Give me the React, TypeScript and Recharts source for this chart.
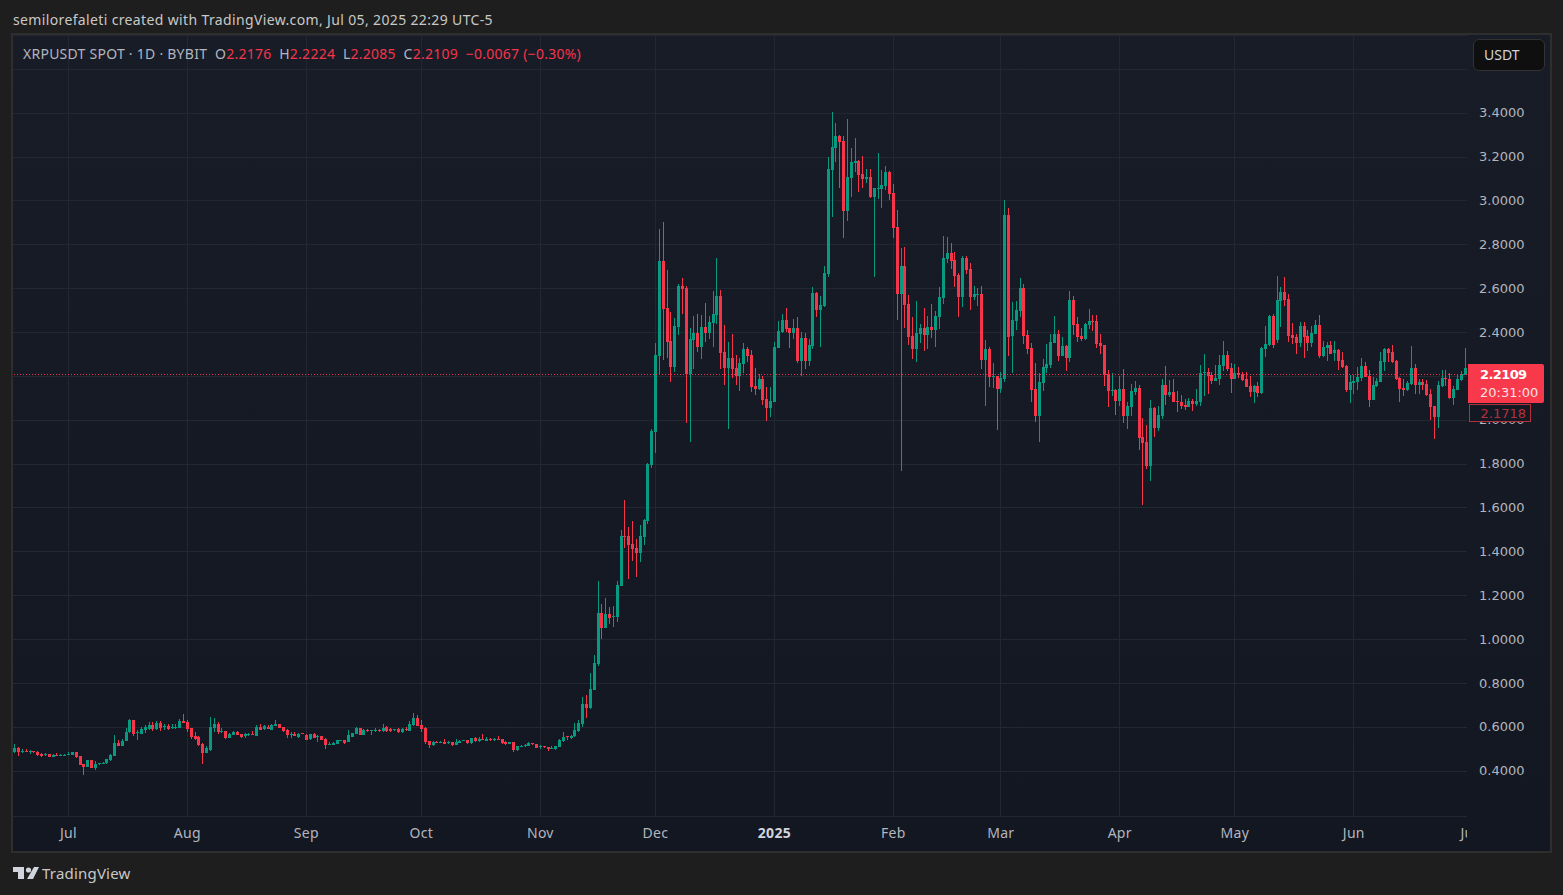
import { Bar, CartesianGrid, ComposedChart, ReferenceLine, XAxis, YAxis } from "recharts";

// XRPUSDT daily candles, first one is 2024-06-17
const opens = [
  0.487, 0.505, 0.488, 0.493, 0.488, 0.49, 0.487, 0.479, 0.473, 0.478,
  0.464, 0.473, 0.47, 0.473, 0.475, 0.473, 0.487, 0.469, 0.432, 0.418,
  0.45, 0.414, 0.432, 0.433, 0.434, 0.451, 0.469, 0.528, 0.514, 0.537,
  0.576, 0.631, 0.575, 0.571, 0.588, 0.592, 0.611, 0.592, 0.618, 0.6,
  0.606, 0.597, 0.597, 0.597, 0.629, 0.624, 0.596, 0.56, 0.556, 0.524,
  0.482, 0.499, 0.597, 0.615, 0.577, 0.583, 0.55, 0.566, 0.58, 0.569,
  0.56, 0.565, 0.57, 0.562, 0.602, 0.591, 0.603, 0.591, 0.608, 0.615,
  0.6, 0.588, 0.566, 0.569, 0.555, 0.573, 0.566, 0.544, 0.571, 0.56,
  0.56, 0.547, 0.52, 0.52, 0.524, 0.54, 0.541, 0.533, 0.557, 0.569,
  0.596, 0.565, 0.589, 0.585, 0.583, 0.589, 0.583, 0.6, 0.592, 0.586,
  0.594, 0.58, 0.594, 0.585, 0.611, 0.643, 0.609, 0.597, 0.537, 0.519,
  0.534, 0.531, 0.534, 0.527, 0.533, 0.519, 0.53, 0.538, 0.542, 0.527,
  0.551, 0.537, 0.545, 0.54, 0.547, 0.541, 0.545, 0.545, 0.533, 0.524,
  0.533, 0.495, 0.514, 0.514, 0.516, 0.528, 0.522, 0.509, 0.513, 0.509,
  0.502, 0.502, 0.51, 0.538, 0.558, 0.551, 0.557, 0.582, 0.615, 0.706,
  0.688, 0.77, 0.889, 1.122, 1.053, 1.117, 1.103, 1.104, 1.245, 1.474,
  1.474, 1.437, 1.419, 1.396, 1.469, 1.542, 1.795, 1.947, 2.292, 2.724,
  2.511, 2.361, 2.242, 2.424, 2.611, 2.602, 2.211, 2.365, 2.397, 2.333,
  2.424, 2.397, 2.443, 2.479, 2.565, 2.311, 2.238, 2.283, 2.238, 2.202,
  2.256, 2.324, 2.297, 2.156, 2.143, 2.188, 2.097, 2.056, 2.083, 2.329,
  2.402, 2.456, 2.42, 2.397, 2.42, 2.27, 2.374, 2.27, 2.338, 2.579,
  2.503, 2.521, 2.667, 3.142, 3.242, 3.297, 3.274, 2.955, 3.105, 3.173,
  3.183, 3.123, 3.101, 3.11, 3.018, 3.055, 3.055, 3.069, 3.132, 3.036,
  2.882, 2.576, 2.704, 2.53, 2.385, 2.325, 2.394, 2.421, 2.389, 2.426,
  2.412, 2.471, 2.558, 2.736, 2.763, 2.731, 2.663, 2.562, 2.74, 2.69,
  2.562, 2.572, 2.576, 2.275, 2.324, 2.197, 2.202, 2.142, 2.188, 2.938,
  2.383, 2.452, 2.497, 2.602, 2.388, 2.329, 2.142, 2.02, 2.17, 2.238,
  2.252, 2.352, 2.392, 2.292, 2.338, 2.283, 2.547, 2.438, 2.383, 2.37,
  2.433, 2.452, 2.452, 2.352, 2.342, 2.211, 2.133, 2.138, 2.088, 2.142,
  2.02, 2.061, 2.129, 2.147, 1.924, 1.902, 1.793, 2.056, 1.965, 2.02,
  2.161, 2.115, 2.129, 2.088, 2.083, 2.07, 2.061, 2.088, 2.074, 2.083,
  2.215, 2.22, 2.206, 2.179, 2.188, 2.247, 2.297, 2.238, 2.188, 2.215,
  2.211, 2.188, 2.156, 2.129, 2.156, 2.124, 2.324, 2.342, 2.474, 2.365,
  2.542, 2.583, 2.552, 2.388, 2.379, 2.352, 2.429, 2.383, 2.352, 2.393,
  2.433, 2.292, 2.33, 2.345, 2.306, 2.32, 2.274, 2.247, 2.138, 2.17,
  2.174, 2.192, 2.247, 2.202, 2.092, 2.156, 2.174, 2.265, 2.324, 2.311,
  2.27, 2.192, 2.147, 2.138, 2.165, 2.238, 2.161, 2.174, 2.165, 2.12,
  2.065, 2.015, 2.156, 2.192, 2.188, 2.102, 2.138, 2.183, 2.206,
];

const closes = [
  0.505, 0.487, 0.493, 0.489, 0.49, 0.486, 0.475, 0.469, 0.478, 0.464,
  0.473, 0.47, 0.475, 0.475, 0.48, 0.487, 0.463, 0.429, 0.418, 0.45,
  0.414, 0.432, 0.435, 0.438, 0.453, 0.473, 0.528, 0.514, 0.537, 0.579,
  0.631, 0.565, 0.578, 0.592, 0.603, 0.611, 0.592, 0.618, 0.597, 0.604,
  0.591, 0.602, 0.602, 0.629, 0.62, 0.592, 0.554, 0.547, 0.518, 0.482,
  0.505, 0.602, 0.617, 0.577, 0.583, 0.55, 0.569, 0.58, 0.565, 0.556,
  0.569, 0.571, 0.566, 0.602, 0.589, 0.604, 0.595, 0.612, 0.617, 0.597,
  0.58, 0.565, 0.57, 0.562, 0.57, 0.569, 0.544, 0.569, 0.551, 0.562,
  0.544, 0.521, 0.524, 0.528, 0.54, 0.543, 0.528, 0.565, 0.574, 0.598,
  0.565, 0.588, 0.583, 0.588, 0.588, 0.583, 0.598, 0.582, 0.583, 0.592,
  0.579, 0.592, 0.588, 0.615, 0.643, 0.606, 0.592, 0.531, 0.519, 0.534,
  0.53, 0.534, 0.524, 0.533, 0.519, 0.534, 0.539, 0.542, 0.527, 0.551,
  0.537, 0.545, 0.542, 0.547, 0.542, 0.545, 0.542, 0.527, 0.524, 0.533,
  0.495, 0.514, 0.516, 0.519, 0.53, 0.522, 0.505, 0.514, 0.508, 0.498,
  0.507, 0.514, 0.544, 0.556, 0.554, 0.56, 0.586, 0.62, 0.708, 0.688,
  0.775, 0.893, 1.122, 1.053, 1.117, 1.099, 1.108, 1.25, 1.474, 1.469,
  1.433, 1.414, 1.396, 1.474, 1.547, 1.8, 1.952, 2.297, 2.724, 2.506,
  2.356, 2.242, 2.429, 2.611, 2.597, 2.211, 2.37, 2.397, 2.333, 2.424,
  2.397, 2.447, 2.483, 2.565, 2.306, 2.238, 2.283, 2.233, 2.202, 2.261,
  2.324, 2.292, 2.152, 2.143, 2.188, 2.092, 2.056, 2.088, 2.333, 2.406,
  2.456, 2.415, 2.397, 2.42, 2.27, 2.374, 2.27, 2.342, 2.579, 2.502,
  2.526, 2.672, 3.146, 3.246, 3.297, 3.269, 2.955, 3.11, 3.178, 3.183,
  3.119, 3.101, 3.11, 3.018, 3.059, 3.059, 3.073, 3.132, 3.032, 2.877,
  2.576, 2.704, 2.526, 2.38, 2.325, 2.398, 2.421, 2.389, 2.426, 2.412,
  2.476, 2.562, 2.74, 2.763, 2.727, 2.658, 2.562, 2.74, 2.686, 2.562,
  2.576, 2.576, 2.275, 2.324, 2.197, 2.202, 2.142, 2.192, 2.938, 2.383,
  2.456, 2.502, 2.602, 2.383, 2.324, 2.138, 2.02, 2.174, 2.242, 2.256,
  2.356, 2.392, 2.292, 2.338, 2.283, 2.547, 2.433, 2.379, 2.37, 2.438,
  2.452, 2.447, 2.347, 2.338, 2.206, 2.133, 2.138, 2.088, 2.142, 2.02,
  2.065, 2.133, 2.147, 1.92, 1.897, 1.793, 2.056, 1.965, 2.024, 2.161,
  2.115, 2.129, 2.083, 2.083, 2.065, 2.061, 2.088, 2.074, 2.088, 2.215,
  2.22, 2.202, 2.179, 2.192, 2.252, 2.297, 2.233, 2.188, 2.215, 2.206,
  2.183, 2.152, 2.129, 2.156, 2.124, 2.329, 2.347, 2.474, 2.342, 2.547,
  2.583, 2.547, 2.383, 2.374, 2.352, 2.429, 2.379, 2.352, 2.397, 2.433,
  2.292, 2.333, 2.345, 2.306, 2.32, 2.27, 2.242, 2.138, 2.174, 2.179,
  2.197, 2.247, 2.197, 2.092, 2.161, 2.179, 2.27, 2.324, 2.306, 2.265,
  2.188, 2.142, 2.138, 2.17, 2.238, 2.161, 2.174, 2.161, 2.115, 2.061,
  2.015, 2.161, 2.192, 2.188, 2.102, 2.142, 2.188, 2.211, 2.238,
];

const highs = [
  0.524, 0.508, 0.503, 0.501, 0.496, 0.493, 0.493, 0.482, 0.482, 0.478,
  0.478, 0.482, 0.476, 0.478, 0.487, 0.487, 0.487, 0.47, 0.433, 0.451,
  0.451, 0.444, 0.437, 0.441, 0.456, 0.477, 0.565, 0.542, 0.545, 0.595,
  0.638, 0.634, 0.588, 0.603, 0.611, 0.623, 0.623, 0.629, 0.629, 0.614,
  0.614, 0.614, 0.617, 0.637, 0.661, 0.632, 0.596, 0.577, 0.56, 0.53,
  0.516, 0.647, 0.643, 0.623, 0.595, 0.583, 0.572, 0.583, 0.582, 0.571,
  0.575, 0.575, 0.581, 0.611, 0.615, 0.611, 0.608, 0.615, 0.634, 0.617,
  0.602, 0.592, 0.58, 0.58, 0.575, 0.574, 0.568, 0.57, 0.574, 0.565,
  0.561, 0.549, 0.533, 0.533, 0.541, 0.544, 0.544, 0.588, 0.576, 0.602,
  0.598, 0.591, 0.592, 0.589, 0.597, 0.592, 0.615, 0.606, 0.597, 0.593,
  0.598, 0.595, 0.6, 0.629, 0.666, 0.656, 0.634, 0.603, 0.538, 0.537,
  0.537, 0.538, 0.545, 0.537, 0.534, 0.547, 0.542, 0.542, 0.543, 0.553,
  0.555, 0.556, 0.57, 0.556, 0.552, 0.55, 0.56, 0.546, 0.536, 0.534,
  0.534, 0.515, 0.517, 0.522, 0.534, 0.529, 0.523, 0.521, 0.515, 0.51,
  0.513, 0.516, 0.546, 0.58, 0.561, 0.565, 0.62, 0.634, 0.737, 0.747,
  0.848, 0.93, 1.268, 1.163, 1.19, 1.149, 1.154, 1.268, 1.501, 1.638,
  1.515, 1.542, 1.46, 1.524, 1.551, 1.805, 1.96, 2.352, 2.874, 2.906,
  2.683, 2.492, 2.465, 2.62, 2.647, 2.611, 2.42, 2.474, 2.483, 2.479,
  2.533, 2.474, 2.588, 2.742, 2.592, 2.433, 2.356, 2.392, 2.297, 2.283,
  2.352, 2.333, 2.32, 2.238, 2.211, 2.202, 2.152, 2.152, 2.356, 2.452,
  2.483, 2.511, 2.42, 2.461, 2.47, 2.402, 2.397, 2.37, 2.606, 2.583,
  2.567, 2.704, 3.201, 3.406, 3.356, 3.301, 3.297, 3.374, 3.242, 3.288,
  3.187, 3.205, 3.146, 3.146, 3.059, 3.219, 3.142, 3.16, 3.137, 3.078,
  2.959, 2.786, 2.79, 2.572, 2.471, 2.544, 2.439, 2.512, 2.476, 2.531,
  2.499, 2.608, 2.841, 2.836, 2.809, 2.768, 2.672, 2.749, 2.749, 2.717,
  2.613, 2.604, 2.613, 2.366, 2.333, 2.261, 2.202, 2.22, 3.006, 2.97,
  2.538, 2.542, 2.647, 2.62, 2.411, 2.352, 2.261, 2.215, 2.279, 2.347,
  2.392, 2.474, 2.411, 2.379, 2.342, 2.588, 2.565, 2.47, 2.42, 2.442,
  2.506, 2.479, 2.479, 2.392, 2.342, 2.229, 2.215, 2.142, 2.202, 2.233,
  2.083, 2.165, 2.179, 2.161, 2.011, 1.979, 2.092, 2.061, 2.065, 2.188,
  2.247, 2.183, 2.188, 2.133, 2.115, 2.097, 2.102, 2.097, 2.142, 2.252,
  2.301, 2.238, 2.22, 2.252, 2.297, 2.361, 2.315, 2.261, 2.256, 2.242,
  2.22, 2.22, 2.202, 2.161, 2.174, 2.333, 2.429, 2.479, 2.483, 2.656,
  2.606, 2.652, 2.574, 2.442, 2.392, 2.447, 2.447, 2.411, 2.429, 2.456,
  2.479, 2.361, 2.355, 2.361, 2.361, 2.324, 2.311, 2.252, 2.206, 2.206,
  2.242, 2.283, 2.265, 2.229, 2.197, 2.192, 2.311, 2.329, 2.329, 2.342,
  2.274, 2.197, 2.188, 2.179, 2.338, 2.256, 2.188, 2.188, 2.183, 2.142,
  2.065, 2.179, 2.229, 2.229, 2.215, 2.156, 2.206, 2.224, 2.329,
];

const lows = [
  0.481, 0.469, 0.487, 0.487, 0.479, 0.484, 0.472, 0.464, 0.47, 0.464,
  0.463, 0.469, 0.467, 0.469, 0.473, 0.473, 0.458, 0.428, 0.382, 0.417,
  0.413, 0.405, 0.427, 0.432, 0.433, 0.446, 0.469, 0.514, 0.514, 0.535,
  0.575, 0.56, 0.542, 0.569, 0.575, 0.588, 0.582, 0.588, 0.585, 0.588,
  0.585, 0.591, 0.592, 0.595, 0.62, 0.576, 0.547, 0.542, 0.514, 0.434,
  0.482, 0.49, 0.58, 0.569, 0.57, 0.545, 0.548, 0.565, 0.563, 0.551,
  0.554, 0.56, 0.565, 0.56, 0.588, 0.588, 0.592, 0.588, 0.606, 0.597,
  0.578, 0.551, 0.554, 0.56, 0.553, 0.568, 0.543, 0.543, 0.55, 0.533,
  0.543, 0.501, 0.519, 0.519, 0.523, 0.538, 0.524, 0.532, 0.556, 0.568,
  0.564, 0.563, 0.578, 0.565, 0.58, 0.58, 0.58, 0.579, 0.579, 0.585,
  0.577, 0.574, 0.583, 0.582, 0.609, 0.605, 0.58, 0.527, 0.507, 0.516,
  0.528, 0.528, 0.523, 0.524, 0.518, 0.518, 0.529, 0.536, 0.525, 0.527,
  0.534, 0.535, 0.541, 0.54, 0.54, 0.537, 0.54, 0.525, 0.516, 0.523,
  0.487, 0.494, 0.513, 0.508, 0.515, 0.521, 0.504, 0.503, 0.505, 0.49,
  0.498, 0.5, 0.509, 0.536, 0.544, 0.548, 0.554, 0.581, 0.598, 0.642,
  0.683, 0.769, 0.88, 1.003, 1.052, 1.071, 1.058, 1.081, 1.245, 1.419,
  1.277, 1.359, 1.286, 1.355, 1.432, 1.529, 1.78, 1.85, 2.215, 2.279,
  2.283, 2.174, 2.22, 2.388, 2.483, 1.988, 1.902, 2.233, 2.311, 2.279,
  2.356, 2.37, 2.333, 2.442, 2.233, 2.161, 1.961, 2.192, 2.161, 2.133,
  2.215, 2.265, 2.129, 2.115, 2.138, 2.07, 1.997, 2.015, 2.083, 2.329,
  2.397, 2.402, 2.329, 2.37, 2.261, 2.202, 2.234, 2.247, 2.324, 2.47,
  2.334, 2.517, 2.654, 2.927, 3.178, 3.06, 2.832, 2.909, 3.018, 3.132,
  3.041, 3.06, 3.082, 3.014, 2.654, 3.009, 2.968, 3.05, 3.005, 2.832,
  2.458, 1.769, 2.421, 2.344, 2.28, 2.266, 2.353, 2.316, 2.325, 2.376,
  2.334, 2.417, 2.53, 2.718, 2.691, 2.608, 2.471, 2.517, 2.667, 2.503,
  2.549, 2.521, 2.234, 2.065, 2.152, 2.147, 1.956, 2.124, 2.174, 2.297,
  2.215, 2.411, 2.47, 2.347, 2.302, 2.083, 1.993, 1.902, 2.133, 2.215,
  2.238, 2.352, 2.27, 2.292, 2.224, 2.265, 2.388, 2.356, 2.361, 2.365,
  2.415, 2.406, 2.329, 2.302, 2.156, 2.061, 2.111, 2.024, 2.065, 1.988,
  1.961, 2.02, 2.115, 1.865, 1.615, 1.779, 1.724, 1.924, 1.952, 2.006,
  2.07, 2.106, 2.083, 2.038, 2.052, 2.047, 2.061, 2.043, 2.065, 2.065,
  2.111, 2.12, 2.165, 2.179, 2.161, 2.224, 2.224, 2.124, 2.188, 2.192,
  2.179, 2.152, 2.106, 2.079, 2.106, 2.12, 2.288, 2.338, 2.329, 2.352,
  2.424, 2.52, 2.356, 2.347, 2.302, 2.333, 2.283, 2.315, 2.333, 2.393,
  2.283, 2.288, 2.267, 2.305, 2.27, 2.229, 2.238, 2.129, 2.079, 2.12,
  2.138, 2.179, 2.197, 2.061, 2.092, 2.152, 2.174, 2.224, 2.265, 2.26,
  2.183, 2.083, 2.111, 2.135, 2.16, 2.12, 2.12, 2.138, 2.111, 2.002,
  1.915, 1.965, 2.152, 2.156, 2.097, 2.07, 2.138, 2.179, 2.206,
];

// day index of every first of the month, the last one sits just past the edge
const monthTicks = [14, 45, 76, 106, 137, 167, 198, 229, 257, 288, 318, 349, 379];
const monthLabels = ["Jul", "Aug", "Sep", "Oct", "Nov", "Dec", "2025", "Feb", "Mar", "Apr", "May", "Jun", "Jul"];
const priceTicks = [0.4, 0.6, 0.8, 1, 1.2, 1.4, 1.6, 1.8, 2, 2.2, 2.4, 2.6, 2.8, 3, 3.2, 3.4, 3.6];

const lastClose = 2.2109;
const UP = "#089981";
const DOWN = "#F6344A";
const FONT = "'Noto Sans', sans-serif";
const MONO = "'DejaVu Sans', sans-serif";

const candles = opens.map((open, i) => ({
  day: i,
  open,
  close: closes[i],
  high: highs[i],
  low: lows[i],
}));

function Candle(props: any) {
  const { x, y, width, height, payload } = props;
  const { open, close, high, low } = payload;
  const color = close >= open ? UP : DOWN;
  const perUnit = height / (high - low);
  const top = Math.round(y + (high - Math.max(open, close)) * perUnit);
  const bodyH = Math.max(Math.round(Math.abs(close - open) * perUnit), 1);
  const cx = Math.round(x + width / 2);
  return (
    <g shapeRendering="crispEdges">
      <rect x={cx} y={Math.round(y)} width={1} height={Math.round(height)} fill={color} />
      <rect x={cx - 1} y={top} width={3} height={bodyH} fill={color} />
    </g>
  );
}

function MonthTick(props: any) {
  const { x, y, payload } = props;
  const label = monthLabels[monthTicks.indexOf(payload.value)];
  return (
    <text
      x={x}
      y={y}
      textAnchor="middle"
      fill={label === "2025" ? "#d1d4dc" : "#b2b5be"}
      fontFamily={FONT}
      fontSize={14}
      letterSpacing={0.3}
      fontWeight={label === "2025" ? 700 : 400}
      clipPath="url(#timeClip)"
    >
      {label}
    </text>
  );
}

function Header() {
  const red = { color: "#f6344a" };
  return (
    <div
      style={{
        position: "absolute",
        left: 23,
        top: 44,
        fontFamily: FONT,
        fontSize: 14,
        letterSpacing: 0.25,
        lineHeight: "20px",
        color: "#b2b5be",
        whiteSpace: "pre",
      }}
    >
      XRPUSDT SPOT · 1D · BYBIT{"  "}O<span style={red}>2.2176</span>{"  "}H<span style={red}>2.2224</span>{"  "}L
      <span style={red}>2.2085</span>{"  "}C<span style={red}>2.2109</span>{"  "}
      <span style={red}>−0.0067 (−0.30%)</span>
    </div>
  );
}

export default function App() {
  return (
    <div
      style={{
        position: "fixed",
        left: 0,
        top: 0,
        width: 1563,
        height: 895,
        background: "#1e1e1e",
        overflow: "hidden",
      }}
    >
      <div
        style={{
          position: "absolute",
          left: 13,
          top: 11,
          fontFamily: FONT,
          fontSize: 14,
          letterSpacing: 0.36,
          lineHeight: "18px",
          color: "#c8c8c8",
        }}
      >
        semilorefaleti created with TradingView.com, Jul 05, 2025 22:29 UTC-5
      </div>

      <div
        style={{
          position: "absolute",
          left: 11,
          top: 33,
          width: 1537,
          height: 816,
          border: "2px solid #2e2e2e",
          background: "linear-gradient(#181c27, #131722)",
        }}
      />

      <div style={{ position: "absolute", left: 0, top: 0 }}>
        <ComposedChart
          width={1563}
          height={895}
          data={candles}
          margin={{ top: 35, right: 13, bottom: 44, left: 13 }}
        >
          <defs>
            <clipPath id="timeClip">
              <rect x={0} y={800} width={1467} height={60} />
            </clipPath>
          </defs>
          <CartesianGrid
            stroke="#232732"
            strokeWidth={1}
            shapeRendering="crispEdges"
            verticalValues={monthTicks.slice(0, -1)}
          />
          <XAxis
            dataKey="day"
            type="number"
            domain={[-0.443, 378.5]}
            allowDataOverflow
            ticks={monthTicks}
            interval={0}
            axisLine={false}
            tickLine={false}
            tickSize={0}
            tickMargin={22}
            height={35}
            tick={MonthTick}
          />
          <YAxis
            orientation="right"
            type="number"
            domain={[0.1953, 3.7566]}
            allowDataOverflow
            ticks={priceTicks}
            interval={0}
            axisLine={false}
            tickLine={false}
            tickSize={0}
            tickMargin={12}
            width={83}
            dy={-0.5}
            tick={{ fontSize: 13, fill: "#b2b5be", fontFamily: MONO }}
            tickFormatter={(v: number) => (v === 3.6 || v === 2.2 ? "" : v.toFixed(4))}
          />
          <ReferenceLine
            y={lastClose}
            stroke={DOWN}
            strokeWidth={1}
            strokeDasharray="1 2"
            transform="translate(0 0.52)"
          />
          <Bar
            dataKey={(d: any) => [d.low, d.high]}
            barSize={3}
            shape={Candle}
            isAnimationActive={false}
          />
        </ComposedChart>
      </div>

      <Header />

      <div
        style={{
          position: "absolute",
          left: 1473,
          top: 39,
          width: 70,
          height: 30,
          border: "1px solid #333",
          borderRadius: 6,
          background: "#0f0f0f",
          color: "#d1d4dc",
          fontFamily: FONT,
          fontSize: 14,
          lineHeight: "30px",
          textIndent: 10,
        }}
      >
        USDT
      </div>

      <div
        style={{
          position: "absolute",
          left: 1468,
          top: 364,
          width: 76,
          height: 39,
          background: "#f7394b",
          borderRadius: "0 2px 2px 0",
          fontFamily: MONO,
          fontSize: 13,
          lineHeight: "18px",
          paddingTop: 2,
          paddingLeft: 12,
          boxSizing: "border-box",
        }}
      >
        <div style={{ color: "#fff", fontWeight: 700, letterSpacing: -0.6 }}>2.2109</div>
        <div style={{ color: "#fde0e3" }}>20:31:00</div>
      </div>

      <div
        style={{
          position: "absolute",
          left: 1469,
          top: 404,
          width: 62,
          height: 18,
          border: "1px solid #b5303d",
          background: "#141823",
          color: "#b5303d",
          fontFamily: MONO,
          fontSize: 13,
          lineHeight: "17px",
          textAlign: "right",
          paddingRight: 4,
          boxSizing: "border-box",
        }}
      >
        2.1718
      </div>

      <svg style={{ position: "absolute", left: 13, top: 867 }} width={26} height={13}>
        <path d="M0 0H11V12H5V5H0Z M21 0H26L20 12H14Z" fill="#d1d4dc" />
        <circle cx={15.5} cy={3} r={2.6} fill="#d1d4dc" />
      </svg>
      <div
        style={{
          position: "absolute",
          left: 42,
          top: 863,
          fontFamily: FONT,
          fontSize: 15,
          letterSpacing: 0.2,
          lineHeight: "20px",
          color: "#c8c8c8",
        }}
      >
        TradingView
      </div>
    </div>
  );
}
